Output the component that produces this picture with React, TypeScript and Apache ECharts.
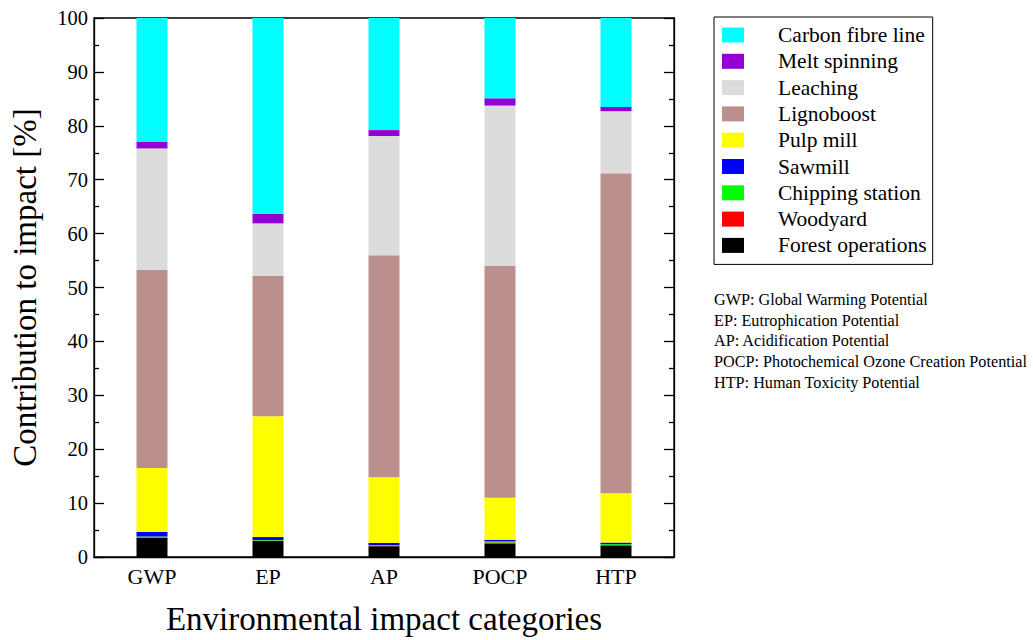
import React, { useEffect, useRef } from "react";
import * as echarts from "echarts";

const categories = ["GWP", "EP", "AP", "POCP", "HTP"];

const seriesNames = [
  "Forest operations",
  "Woodyard",
  "Chipping station",
  "Sawmill",
  "Pulp mill",
  "Lignoboost",
  "Leaching",
  "Melt spinning",
  "Carbon fibre line",
];

const seriesColors = [
  "#000000",
  "#ff0000",
  "#00ff00",
  "#0000ff",
  "#ffff00",
  "#bc8f8f",
  "#dcdcdc",
  "#9400d3",
  "#00ffff",
];

const forestOperations = [3.6, 3.0, 2.0, 2.5, 2.15];
const woodyard = [0.05, 0.05, 0.05, 0.2, 0.05];
const chippingStation = [0.15, 0.1, 0.18, 0.2, 0.18];
const sawmill = [0.85, 0.55, 0.37, 0.3, 0.3];
const pulpMill = [11.85, 22.4, 12.2, 7.8, 9.17];
const lignoboost = [36.8, 26.1, 41.2, 43.0, 59.35];
const leaching = [22.5, 9.7, 22.1, 29.75, 11.5];
const meltSpinning = [1.2, 1.8, 1.1, 1.35, 0.8];
const carbonFibreLine = [23.0, 36.3, 20.8, 14.9, 16.5];

const seriesValues = [
  forestOperations,
  woodyard,
  chippingStation,
  sawmill,
  pulpMill,
  lignoboost,
  leaching,
  meltSpinning,
  carbonFibreLine,
];

const legendOrder = [...seriesNames].reverse();

const notes = [
  "GWP: Global Warming Potential",
  "EP: Eutrophication Potential",
  "AP: Acidification Potential",
  "POCP: Photochemical Ozone Creation Potential",
  "HTP: Human Toxicity Potential",
];

const FONT = "'Liberation Serif', 'DejaVu Serif', serif";

export default function App() {
  const ref = useRef<HTMLDivElement>(null);

  useEffect(() => {
    if (!ref.current) return;
    const chart = echarts.init(ref.current, undefined, { renderer: "svg" });

    const yAxisCommon = {
      type: "value",
      min: 0,
      max: 100,
      interval: 10,
      splitLine: { show: false },
      axisLine: { show: true, lineStyle: { color: "#000", width: 1.3 } },
      axisTick: { show: true, inside: true, length: 10, lineStyle: { color: "#000", width: 1.3 } },
      minorTick: { show: true, splitNumber: 2, length: 5, lineStyle: { color: "#000", width: 1.3 } },
    };

    chart.setOption({
      animation: false,
      textStyle: { fontFamily: FONT },
      grid: {
        left: 91,
        right: 359,
        top: 18,
        bottom: 76,
        show: true,
        borderColor: "#000",
        borderWidth: 1.3,
        backgroundColor: "transparent",
      },
      legend: {
        orient: "vertical",
        left: 714,
        top: 17,
        data: legendOrder,
        borderColor: "#000",
        borderWidth: 1,
        padding: [7, 6, 8, 8],
        itemWidth: 22,
        itemHeight: 15,
        itemGap: 4.3,
        icon: "rect",
        selectedMode: false,
        textStyle: {
          fontFamily: FONT,
          fontSize: 21.5,
          color: "#000",
          lineHeight: 20,
          padding: [0, 0, 0, 29],
        },
      },
      xAxis: {
        type: "category",
        data: categories,
        axisLine: { show: true, lineStyle: { color: "#000", width: 1.3 } },
        axisTick: { show: false },
        axisLabel: { fontFamily: FONT, fontSize: 22, color: "#000", margin: 8 },
        name: "Environmental impact categories",
        nameLocation: "middle",
        nameGap: 45,
        nameTextStyle: { fontFamily: FONT, fontSize: 33, color: "#000" },
      },
      yAxis: [
        {
          ...yAxisCommon,
          position: "left",
          axisLabel: { fontFamily: FONT, fontSize: 20.5, color: "#000", margin: 6 },
          name: "Contribution to impact [%]",
          nameLocation: "middle",
          nameGap: 53,
          nameTextStyle: { fontFamily: FONT, fontSize: 33, color: "#000" },
        },
        {
          ...yAxisCommon,
          position: "right",
          axisLabel: { show: false },
        },
      ],
      series: seriesNames.map((name, i) => ({
        name,
        type: "bar",
        stack: "total",
        barWidth: 31,
        yAxisIndex: 0,
        data: seriesValues[i],
        itemStyle: { color: seriesColors[i] },
        emphasis: { disabled: true },
      })),
      graphic: notes.map((t, i) => ({
        type: "text",
        left: 714,
        top: 292 + i * 20.7,
        style: { text: t, fontFamily: FONT, fontSize: 16.2, fill: "#000" },
      })),
    });

    return () => chart.dispose();
  }, []);

  return <div ref={ref} style={{ width: 1033, height: 640, position: "absolute", left: 0, top: 0 }} />;
}
